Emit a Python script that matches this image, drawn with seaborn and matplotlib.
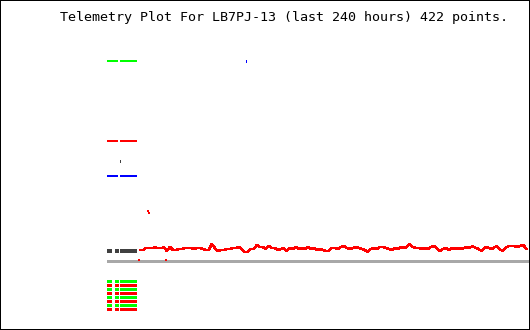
import matplotlib
matplotlib.use("Agg")
import matplotlib.pyplot as plt
import seaborn as sns
import numpy as np
import pandas as pd
from matplotlib.patches import Rectangle

# ---------------- data ----------------
title = "Telemetry Plot For LB7PJ-13 (last 240 hours) 422 points."

# analog channel level segments (hours since window start, value units)
seg_colors = ["#00ff00", "#ff0000", "#0000ff"]
seg_levels = [200, 120, 85]
seg_starts = [0.0, 7.4]
seg_ends = [6.2, 17.0]

# dark channel segments
dark_level = 10
dark_starts = [0.0, 4.5, 7.4]
dark_ends = [2.8, 6.8, 17.0]
dark_color = "#404040"

# digital bits (8 rows)
bit_rows = 8
bit_colors = ["#00ff00", "#ff0000"]
bit_starts = [0.0, 4.5, 7.4]
bit_ends = [2.8, 6.8, 17.0]

# main red series (hours, value)
series_start = 18.7
series_step = 1.70
series_vals = [11, 11, 13, 13, 13, 13.5, 13, 13, 13.5, 10, 14, 11, 11, 12, 12,
               13, 13, 13, 12, 13, 13, 12, 11, 11, 17, 13, 10, 11, 11, 12,
               12, 13, 13, 14, 12, 9, 9, 12, 12, 16, 14, 14, 12, 15, 13,
               13, 11, 12, 13, 10, 13, 12, 14, 12, 13, 12, 14, 12, 13, 11,
               12, 11, 10, 10, 13, 13, 12, 14, 15, 13, 12, 13, 14, 13, 12,
               11, 9, 12, 13, 12, 14, 14, 13, 12, 11, 13, 12, 14, 13, 14,
               17, 14, 13, 13, 12, 13, 12, 14, 15, 13, 10, 12, 13, 11, 13,
               12, 13, 12, 13, 14, 13, 15, 13, 12, 10, 13, 14, 12, 13, 15,
               12, 10, 13, 15, 15, 15, 14, 15, 16, 12]

# isolated points
red_pts_h = [23.0, 23.8]
red_pts_v = [50.5, 48.0]
low_dots_h = [18.4, 33.2]
low_dots_v = [1.5, 1.5]
blue_dot_h = 78.6
blue_dot_v = 200.0
tick_h = 7.1
tick_v = 100.0

# ---------------- figure ----------------
sns.set_style("white")
W, H = 530, 330
fig = plt.figure(figsize=(W / 100, H / 100), dpi=100)
fig.patch.set_facecolor("white")

ax = fig.add_axes([107 / W, 10 / H, 423 / W, 280 / H])
ax.set_xlim(0, 240)
ax.set_ylim(-59, 221)
ax.axis("off")

px = 0.72  # one pixel in points

# grey baseline
ax.axhline(0, color="#a8a8a8", lw=3 * px, antialiased=False, zorder=1)

# level segments
for c, lvl in zip(seg_colors, seg_levels):
    ax.hlines([lvl] * len(seg_starts), seg_starts, seg_ends, colors=c,
              lw=2 * px, antialiased=False)

ax.hlines([dark_level] * len(dark_starts), dark_starts, dark_ends,
          colors=dark_color, lw=2.5 * px, antialiased=False)

# digital bits
spans = [(s, e - s) for s, e in zip(bit_starts, bit_ends)]
for i in range(bit_rows):
    top = -19 - 4 * i
    ax.broken_barh(spans, (top - 3, 3), facecolors=bit_colors[i % 2],
                   edgecolor="none", antialiased=False)

# main red series
hours = series_start + series_step * np.arange(len(series_vals))
df = pd.DataFrame({"hours": hours, "value": series_vals})
sns.lineplot(data=df, x="hours", y="value", ax=ax, color="#ff0000",
             lw=1.6 * px, antialiased=False, zorder=3)

# isolated points
ax.scatter(red_pts_h, red_pts_v, marker="s", s=3, color="#ff0000",
           linewidths=0, zorder=4)
ax.scatter(low_dots_h, low_dots_v, marker="s", s=1, color="#ff0000",
           linewidths=0, zorder=4)
ax.vlines([blue_dot_h], blue_dot_v - 1, blue_dot_v + 1, colors="#0000ff",
          lw=1 * px, antialiased=False)
ax.vlines([tick_h], tick_v - 1, tick_v + 1, colors=dark_color,
          lw=1 * px, antialiased=False)

ax.set_xlabel("")
ax.set_ylabel("")
ax.legend_ = None

# title
fig.text(283.5 / W, 1 - 17.5 / H, title, ha="center", va="center",
         family="DejaVu Sans Mono", fontsize=9.6, color="black")

# border
fig.patches.append(Rectangle((0, 0), 1, 1, transform=fig.transFigure,
                             fill=False, edgecolor="black", lw=2 * px,
                             antialiased=False))

fig.savefig("out.png", dpi=100, facecolor="white")
